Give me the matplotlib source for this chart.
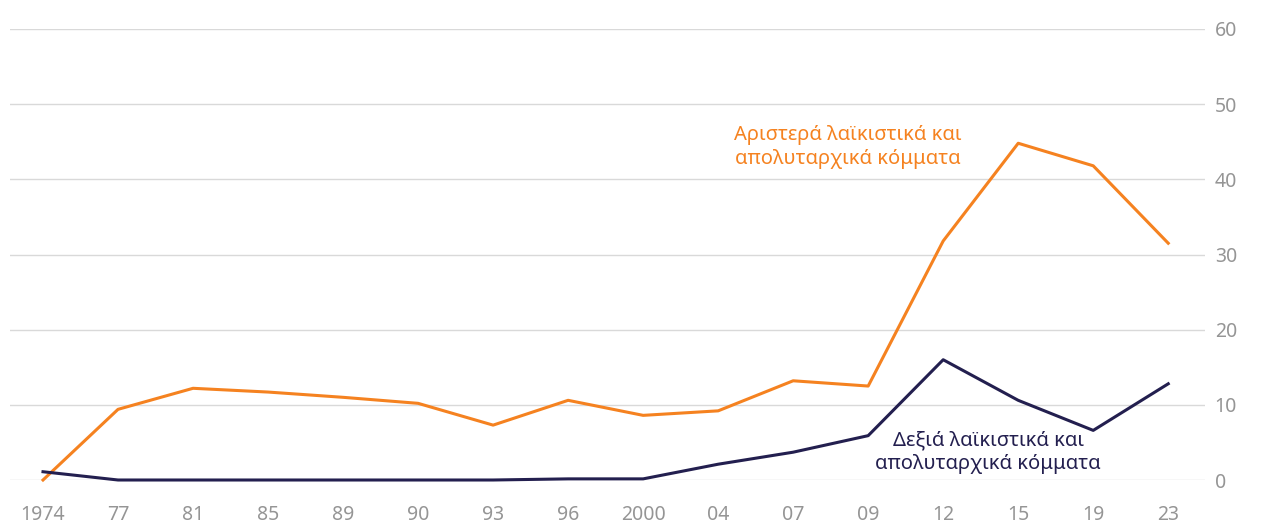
import matplotlib.pyplot as plt
import numpy as np

# election years (evenly spaced categories)
years = ['1974', '77', '81', '85', '89', '90', '93', '96', '2000',
         '04', '07', '09', '12', '15', '19', '23']

# vote share (%) of populist / authoritarian parties
left_pop = [0.0, 9.4, 12.2, 11.7, 11.0, 10.2, 7.3, 10.6, 8.6,
            9.2, 13.2, 12.5, 31.8, 44.8, 41.8, 31.5]
right_pop = [1.1, 0.0, 0.0, 0.0, 0.0, 0.0, 0.0, 0.15, 0.15,
             2.1, 3.7, 5.9, 16.0, 10.6, 6.6, 12.8]

yticks = [0, 10, 20, 30, 40, 50, 60]

ORANGE = '#F58220'
NAVY = '#231F4F'
GREY = '#959595'

plt.rcParams['font.family'] = ['Noto Sans', 'DejaVu Sans']

W, H = 1273, 524
fig = plt.figure(figsize=(W / 100, H / 100), dpi=100)
# axes placed in pixel terms: x from 10 to 1205, y from 480 (0) to 29 (60)
ax = fig.add_axes([10 / W, 1 - 480 / H, (1205 - 10) / W, (480 - 29) / H])

x = np.arange(len(years))
ax.plot(x, left_pop, color=ORANGE, lw=2.2, clip_on=False, zorder=3)
ax.plot(x, right_pop, color=NAVY, lw=2.2, clip_on=False, zorder=3)

ax.set_xlim(-0.44, 15.49)
ax.set_ylim(0, 60)

ax.set_yticks(yticks)
ax.yaxis.tick_right()
ax.grid(axis='y', color='#d9d9d9', lw=1)
ax.set_axisbelow(True)
ax.set_xticks(x)
ax.set_xticklabels(years)
ax.tick_params(axis='both', length=0, labelsize=14, labelcolor=GREY,
               width=0)
ax.tick_params(axis='y', pad=7)
ax.tick_params(axis='x', pad=18)
for lab in ax.get_xticklabels() + ax.get_yticklabels():
    lab.set_fontweight('light')

for s in ax.spines.values():
    s.set_visible(False)

ax.text(10.73, 44.3, 'Αριστερά λαϊκιστικά και\nαπολυταρχικά κόμματα',
        color=ORANGE, fontsize=14.5, ha='center', va='center',
        linespacing=1.25, fontweight='light')
ax.text(12.6, 3.7, 'Δεξιά λαϊκιστικά και\nαπολυταρχικά κόμματα',
        color=NAVY, fontsize=14.5, ha='center', va='center',
        linespacing=1.25, fontweight='light')

fig.savefig('out.png', dpi=100)
